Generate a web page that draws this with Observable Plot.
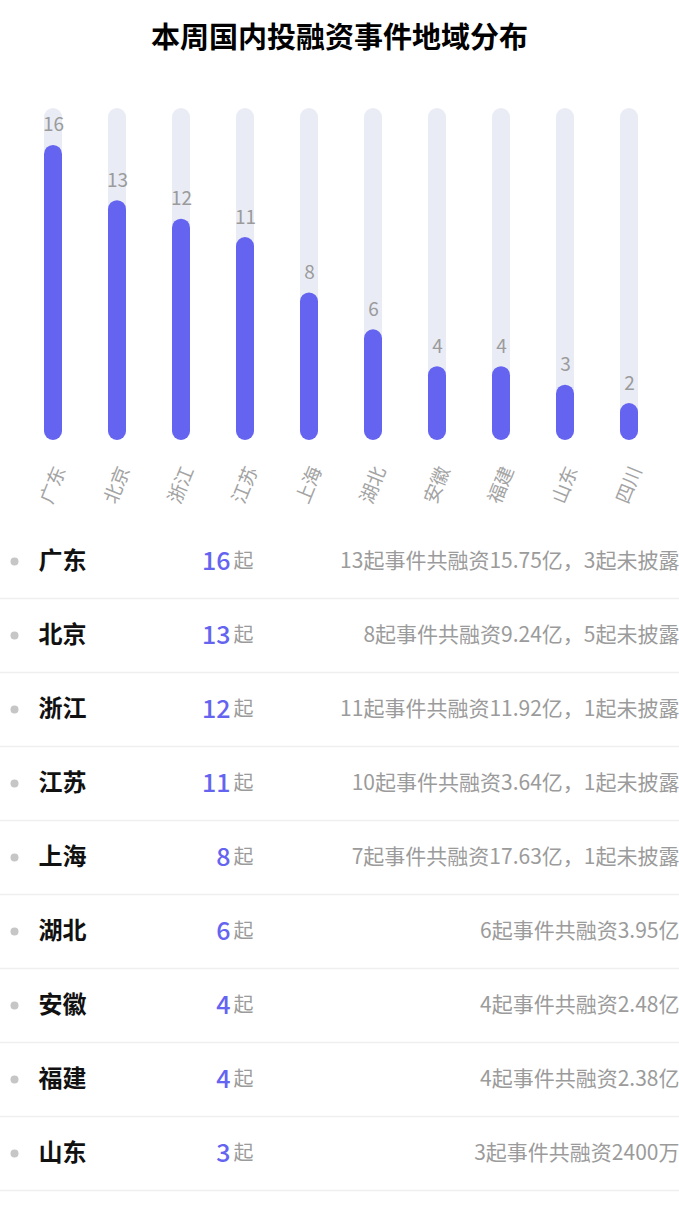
<!DOCTYPE html>
<html>
<head>
<meta charset="utf-8">
<script src="https://cdn.jsdelivr.net/npm/d3@7"></script>
<script src="https://cdn.jsdelivr.net/npm/@observablehq/plot@0.6"></script>
<style>
  html, body { margin: 0; padding: 0; background: #fff; }
  body { width: 679px; height: 1207px; overflow: hidden; font-family: "Noto Sans CJK SC", "Noto Sans", sans-serif; }
  #title { box-sizing: border-box; height: 75px; padding-bottom: 6px; display: flex; align-items: center; justify-content: center; font-size: 29px; font-weight: bold; color: #000; }
  svg { display: block; }
</style>
</head>
<body>
<div id="title">本周国内投融资事件地域分布</div>
<div id="bars"></div>
<div id="table"></div>
<script>
const regions = ["广东", "北京", "浙江", "江苏", "上海", "湖北", "安徽", "福建", "山东", "四川"];
const counts = [16, 13, 12, 11, 8, 6, 4, 4, 3, 2];
const trackMax = 18;
const tableRegions = ["广东", "北京", "浙江", "江苏", "上海", "湖北", "安徽", "福建", "山东"];
const tableCounts = [16, 13, 12, 11, 8, 6, 4, 4, 3];
const details = [
  "13起事件共融资15.75亿，3起未披露",
  "8起事件共融资9.24亿，5起未披露",
  "11起事件共融资11.92亿，1起未披露",
  "10起事件共融资3.64亿，1起未披露",
  "7起事件共融资17.63亿，1起未披露",
  "6起事件共融资3.95亿",
  "4起事件共融资2.48亿",
  "4起事件共融资2.38亿",
  "3起事件共融资2400万"
];
const unit = "起";

const FONT = '"Noto Sans CJK SC", "Noto Sans", sans-serif';
const PURPLE = "#6464F1";
const TRACK = "#E9ECF5";
const GRAY = "#9b9b9b";

const barData = regions.map((r, i) => ({region: r, count: counts[i], track: trackMax}));

const bars = Plot.plot({
  width: 679,
  height: 448,
  marginTop: 33,
  marginBottom: 83,
  marginLeft: 20,
  marginRight: 18,
  style: {fontFamily: FONT, background: "transparent"},
  x: {domain: regions, padding: 0, label: null},
  y: {domain: [0, trackMax], axis: null},
  marks: [
    Plot.barY(barData, {x: "region", y: "track", fill: TRACK, rx: 9, insetLeft: 23, insetRight: 23}),
    Plot.barY(barData, {x: "region", y: "count", fill: PURPLE, rx: 9, insetLeft: 23, insetRight: 23}),
    Plot.text(barData, {x: "region", y: "count", text: d => String(d.count), dy: -20, fill: GRAY, fontSize: 19}),
    Plot.axisX({tickSize: 0, tickPadding: 27, dx: 7, tickRotate: -68, fontSize: 19, color: "#a3a3a3", label: null})
  ]
});
document.getElementById("bars").appendChild(bars);

const rows = tableRegions.map((r, i) => ({name: r, count: tableCounts[i], detail: details[i]}));

const table = Plot.plot({
  width: 679,
  height: 684,
  marginTop: 0,
  marginBottom: 16,
  marginLeft: 0,
  marginRight: 0,
  style: {fontFamily: FONT, background: "transparent"},
  y: {type: "point", domain: tableRegions, padding: 0.5, axis: null},
  marks: [
    Plot.ruleY(rows, {y: "name", dy: 37.1, stroke: "#efefef", strokeWidth: 1.5}),
    Plot.dot(rows, {y: "name", frameAnchor: "left", dx: 14, r: 4, fill: "#c6c6c6", stroke: null}),
    Plot.text(rows, {y: "name", text: "name", frameAnchor: "left", dx: 38, textAnchor: "start", fontSize: 24, fontWeight: "bold", fill: "#111"}),
    Plot.text(rows, {y: "name", text: d => String(d.count), frameAnchor: "left", dx: 230, textAnchor: "end", fontSize: 25, fontWeight: 500, fill: PURPLE}),
    Plot.text(rows, {y: "name", text: () => unit, frameAnchor: "left", dx: 233, textAnchor: "start", fontSize: 20, fill: GRAY}),
    Plot.text(rows, {y: "name", text: "detail", frameAnchor: "right", textAnchor: "end", fontSize: 21, fill: GRAY})
  ]
});
document.getElementById("table").appendChild(table);
</script>
</body>
</html>
